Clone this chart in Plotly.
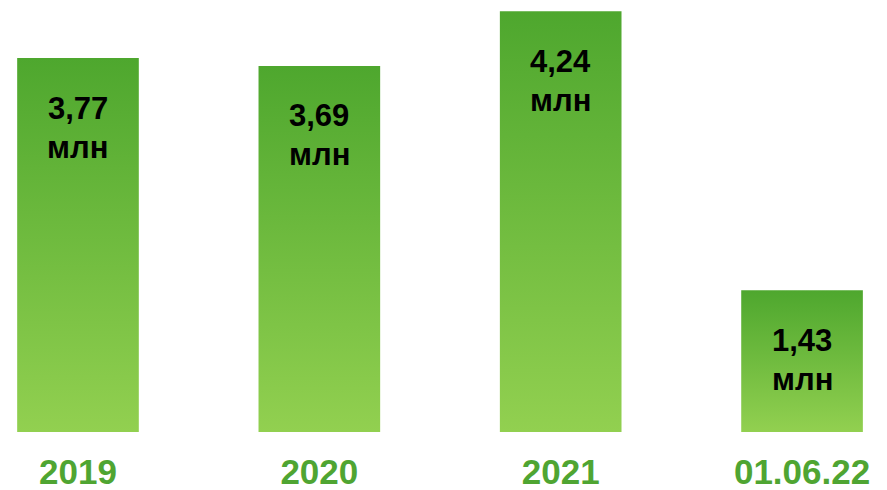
import plotly.graph_objects as go

categories = ["2019", "2020", "2021", "01.06.22"]
values = [3.77, 3.69, 4.24, 1.43]
unit = "млн"

GREEN_TOP = "#4ea72e"
GREEN_BOTTOM = "#92d050"
LABEL_GREEN = "#4fa532"
FONT = "Arial, Liberation Sans, sans-serif"
HALF_W = 0.252

fig = go.Figure()
for i, v in enumerate(values):
    fig.add_trace(go.Scatter(
        x=[i - HALF_W, i + HALF_W, i + HALF_W, i - HALF_W, i - HALF_W],
        y=[0, 0, v, v, 0],
        mode="lines",
        line=dict(width=0),
        fill="toself",
        fillgradient=dict(type="vertical",
                          colorscale=[[0, GREEN_BOTTOM], [1, GREEN_TOP]]),
        hoverinfo="skip",
        showlegend=False,
    ))
    fig.add_annotation(
        x=i, y=v, yanchor="middle", yshift=-50,
        text=f"{v:.2f}".replace(".", ","),
        showarrow=False,
        font=dict(family=FONT, size=31, color="black", weight="bold"),
    )
    fig.add_annotation(
        x=i, y=v, yanchor="middle", yshift=-89,
        text=unit,
        showarrow=False,
        font=dict(family=FONT, size=31, color="black", weight="bold"),
    )

fig.update_layout(
    width=879, height=482,
    margin=dict(l=0, r=0, t=0, b=58),
    paper_bgcolor="white", plot_bgcolor="white",
    xaxis=dict(
        range=[-0.290, 3.352],
        tickmode="array",
        tickvals=list(range(len(categories))),
        ticktext=categories,
        showgrid=False, zeroline=False, showline=False,
        ticks="",
        ticklabelstandoff=16,
        tickfont=dict(family=FONT, size=35, color=LABEL_GREEN, weight="bold"),
        fixedrange=True,
    ),
    yaxis=dict(
        range=[0, 4.274],
        visible=False,
        fixedrange=True,
    ),
)

fig.write_html("out.html")
